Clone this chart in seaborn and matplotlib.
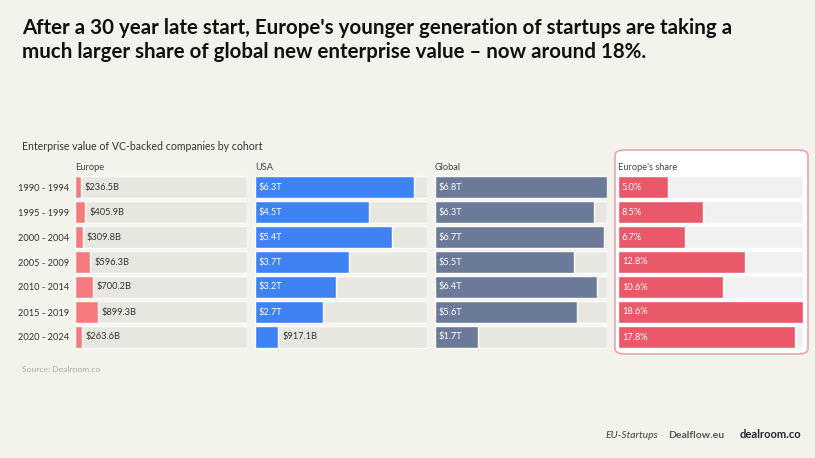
import matplotlib
matplotlib.use("Agg")
import matplotlib.pyplot as plt
import seaborn as sns
import pandas as pd
from matplotlib.patches import FancyBboxPatch

cohorts = ["1990 - 1994", "1995 - 1999", "2000 - 2004", "2005 - 2009",
           "2010 - 2014", "2015 - 2019", "2020 - 2024"]
europe_b = [236.5, 405.9, 309.8, 596.3, 700.2, 899.3, 263.6]          # $B
usa_t = [6.3, 4.5, 5.4, 3.7, 3.2, 2.7, 0.9171]                         # $T
global_t = [6.8, 6.3, 6.7, 5.5, 6.4, 5.6, 1.7]                         # $T
share_pct = [5.0, 8.5, 6.7, 12.8, 10.6, 18.6, 17.8]                    # %

europe_lbl = ["$236.5B", "$405.9B", "$309.8B", "$596.3B", "$700.2B", "$899.3B", "$263.6B"]
usa_lbl = ["$6.3T", "$4.5T", "$5.4T", "$3.7T", "$3.2T", "$2.7T", "$917.1B"]
global_lbl = ["$6.8T", "$6.3T", "$6.7T", "$5.5T", "$6.4T", "$5.6T", "$1.7T"]
share_lbl = ["5.0%", "8.5%", "6.7%", "12.8%", "10.6%", "18.6%", "17.8%"]

title = ("After a 30 year late start, Europe's younger generation of startups are taking a\n"
         "much larger share of global new enterprise value \u2013 now around 18%.")
subtitle = "Enterprise value of VC-backed companies by cohort"
source = "Source: Dealroom.co"

BG = "#f3f2eb"
TRACK = "#e8e7df"
SHARE_TRACK = "#f1f1f1"
C_EU = "#f57b7d"
C_US = "#3f82f4"
C_GL = "#6b7a98"
C_SH = "#e9596a"
TXT = "#333333"

sns.set_theme(style="white")
plt.rcParams["font.family"] = ["Lato", "DejaVu Sans"]

W, H = 815, 458
fig = plt.figure(figsize=(W / 100, H / 100), dpi=100, facecolor=BG)

def fx(px):
    return px / W

def fy(py):
    return 1 - py / H

# Europe's share box
box = FancyBboxPatch((fx(615), fy(354)), fx(808) - fx(615), fy(150) - fy(354),
                     boxstyle="round,pad=0,rounding_size=0.012",
                     transform=fig.transFigure, facecolor="white",
                     edgecolor="#eea3ab", linewidth=1.2, zorder=-5)
fig.patches.append(box)

row_top, row_bot = 174.5, 349.5
bottom = fy(row_bot)
height = (row_bot - row_top) / H

df = pd.DataFrame({"cohort": cohorts,
                   "europe": [v / 1000 for v in europe_b],
                   "usa": usa_t, "global": global_t, "share": share_pct})

XMAX = 6.8
panels = [
    ("Europe", "europe", 75, 247, XMAX, C_EU, europe_lbl, TRACK),
    ("USA", "usa", 255, 427, XMAX, C_US, usa_lbl, TRACK),
    ("Global", "global", 435, 607, XMAX, C_GL, global_lbl, TRACK),
    ("Europe's share", "share", 618, 803, 18.6, C_SH, share_lbl, SHARE_TRACK),
]

FS = 6.7
BAR_W = 0.87
for name, col, x0, x1, xmax, color, labels, track in panels:
    ax = fig.add_axes([fx(x0), bottom, (x1 - x0) / W, height])
    ax.set_facecolor("none")
    ax.set_zorder(2)
    tracks = pd.DataFrame({"cohort": cohorts, "v": [xmax] * len(cohorts)})
    sns.barplot(data=tracks, x="v", y="cohort", orient="h", color=track,
                width=BAR_W, saturation=1, ax=ax, zorder=1)
    sns.barplot(data=df, x=col, y="cohort", orient="h", color=color,
                width=BAR_W, saturation=1, ax=ax, zorder=2)
    ax.set_xlim(0, xmax)
    ax.set_ylim(6.5, -0.5)
    ax.set_xlabel("")
    ax.set_ylabel("")
    ax.set_xticks([])
    for s in ax.spines.values():
        s.set_visible(False)
    if col == "europe":
        ax.set_yticks(range(len(cohorts)))
        ax.set_yticklabels(cohorts, fontsize=FS, color=TXT)
        ax.tick_params(axis="y", length=0, pad=4)
    else:
        ax.set_yticks([])
    px_per_unit = (x1 - x0) / xmax
    for i, (v, lab) in enumerate(zip(df[col], labels)):
        bar_px = v * px_per_unit
        if col == "europe" or (col == "usa" and bar_px < 40):
            ax.text(v + 4 / px_per_unit, i, lab, va="center", ha="left",
                    fontsize=FS, color=TXT, zorder=3)
        else:
            ax.text(4 / px_per_unit, i, lab, va="center", ha="left",
                    fontsize=FS, color="white", zorder=3)
    fig.text(fx(x0), fy(167), name, fontsize=FS, color="#444444", va="center", ha="left")

fig.text(fx(22), fy(40), title, fontsize=14.8, fontweight="bold", color="#111111",
         va="center", ha="left", linespacing=1.25)
fig.text(fx(22), fy(146), subtitle, fontsize=7.6, color=TXT, va="center", ha="left")
fig.text(fx(22), fy(369), source, fontsize=6.1, color="#aaaaaa", va="center", ha="left")

fig.text(fx(605), fy(435), "EU-Startups", fontsize=7.5, style="italic", color="#444444",
         va="center", ha="left")
fig.text(fx(668), fy(435), "Dealflow.eu", fontsize=7.5, fontweight="bold", color="#555555",
         va="center", ha="left")
fig.text(fx(740), fy(435), "dealroom.co", fontsize=8, fontweight="bold", color="#222233",
         va="center", ha="left")

fig.savefig("out.png", dpi=100, facecolor=BG)
